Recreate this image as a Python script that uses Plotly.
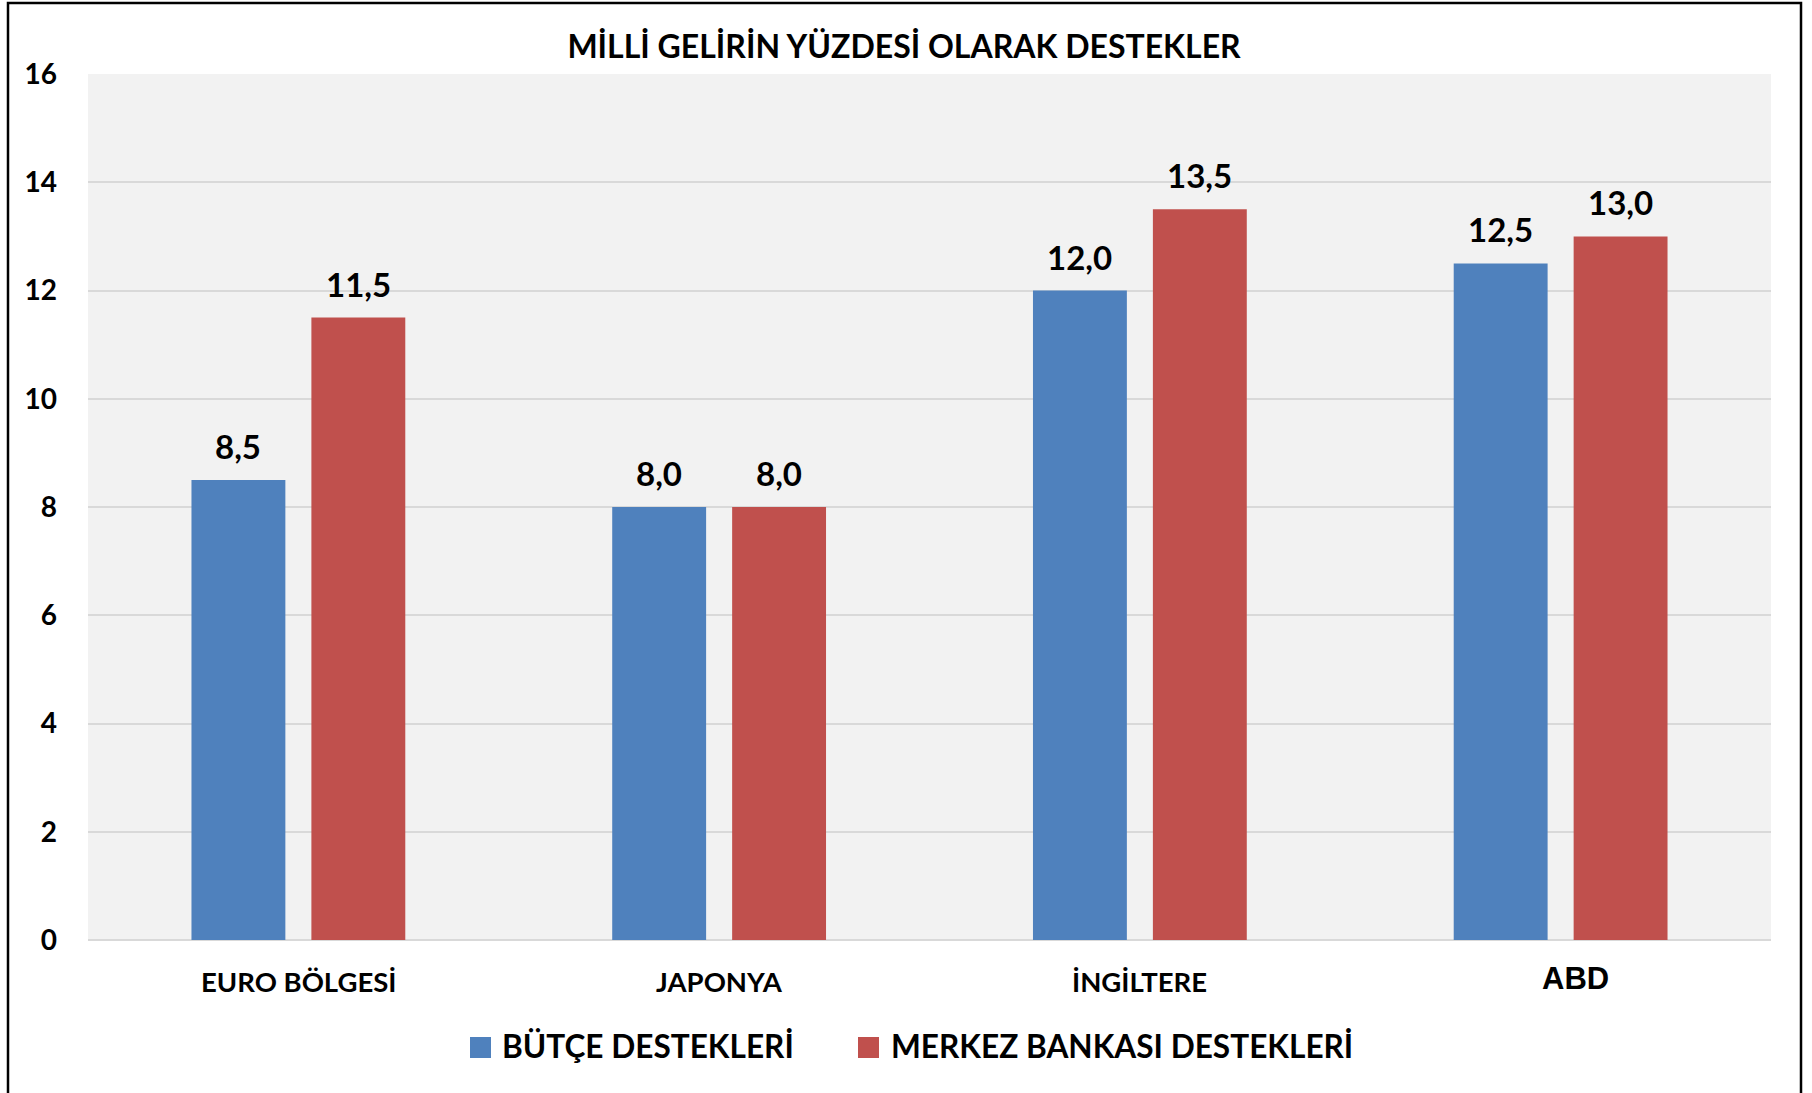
import plotly.graph_objects as go

categories = ["EURO BÖLGESİ", "JAPONYA", "İNGİLTERE", "ABD"]
butce = [8.5, 8.0, 12.0, 12.5]
merkez = [11.5, 8.0, 13.5, 13.0]
series_names = ["BÜTÇE DESTEKLERİ", "MERKEZ BANKASI DESTEKLERİ"]
title_text = "MİLLİ GELİRİN YÜZDESİ OLARAK DESTEKLER"
y_ticks = [0, 2, 4, 6, 8, 10, 12, 14, 16]

BLUE = "#4F81BD"
RED = "#C0504D"
W, H = 1812, 1093
L, R, T, B = 88, 1771, 74, 940


def px(x):
    return (x - L) / (R - L)


def py(y):
    return (B - y) / (B - T)


FONT = "Lato"

fig = go.Figure()
fig.add_trace(go.Bar(x=categories, y=butce, name=series_names[0], marker_color=BLUE,
                     marker_line_width=0))
fig.add_trace(go.Bar(x=categories, y=merkez, name=series_names[1], marker_color=RED,
                     marker_line_width=0))

annotations = []
slot = 60
for i, c in enumerate(categories):
    for vals, shift in ((butce, -slot), (merkez, slot)):
        annotations.append(dict(
            x=c, y=vals[i], xref="x", yref="y", xshift=shift, yshift=12,
            yanchor="bottom", xanchor="center", showarrow=False,
            text=f"{vals[i]:.1f}".replace(".", ","),
            font=dict(family=FONT, size=33, color="black", weight="bold")))

# category labels
for i, c in enumerate(categories):
    if c == "ABD":
        annotations.append(dict(x=c, y=py(978), xref="x", yref="paper", xshift=15,
                                showarrow=False, text=c, yanchor="middle",
                                font=dict(family="Liberation Sans", size=31, color="black",
                                          weight="bold")))
    else:
        annotations.append(dict(x=c, y=py(981), xref="x", yref="paper",
                                showarrow=False, text=c, yanchor="middle",
                                font=dict(family=FONT, size=27.5, color="black",
                                          weight="bold")))

# legend
shapes = []
legend_items = [(series_names[0], BLUE, 470, 500), (series_names[1], RED, 858, 889)]
for name, col, sx, tx in legend_items:
    shapes.append(dict(type="rect", xref="paper", yref="paper",
                       x0=px(sx), x1=px(sx + 21), y0=py(1058), y1=py(1037),
                       fillcolor=col, line_width=0))
    annotations.append(dict(x=px(tx), y=py(1046), xref="paper", yref="paper",
                            xanchor="left", yanchor="middle", showarrow=False, text=name,
                            font=dict(family=FONT, size=31.6, color="black", weight="bold")))

# outer border
shapes.append(dict(type="rect", xref="paper", yref="paper",
                   x0=px(8), x1=px(1801), y0=py(1105), y1=py(3),
                   line=dict(color="black", width=2.5), fillcolor="rgba(0,0,0,0)",
                   layer="above"))

fig.update_layout(
    width=W, height=H,
    margin=dict(l=L, r=W - R, t=T, b=H - B, pad=0),
    paper_bgcolor="white", plot_bgcolor="#F2F2F2",
    barmode="group", bargap=0.43, bargroupgap=0.217,
    showlegend=False,
    separators=",.",
    title=dict(text=title_text, x=904 / W, xanchor="center", y=1 - 47 / H, yanchor="middle",
               font=dict(family=FONT, size=32, color="black", weight="bold")),
    xaxis=dict(showticklabels=False, showgrid=False, zeroline=False, showline=False,
               ticks=""),
    yaxis=dict(range=[0, 16], tickvals=y_ticks, showgrid=True, gridcolor="#D9D9D9",
               gridwidth=2, zeroline=True, zerolinecolor="#D9D9D9", zerolinewidth=2,
               showline=False, ticks="", ticklabelstandoff=30,
               tickfont=dict(family=FONT, size=28, color="black", weight="bold")),
    annotations=annotations,
    shapes=shapes,
)

fig.write_html("out.html", config={"displayModeBar": False})

# remove the browser's default page margin so the figure sits at the window origin
with open("out.html", encoding="utf-8") as f:
    html = f.read()
html = html.replace("<head>", "<head><style>html,body{margin:0;padding:0;overflow:hidden;}</style>", 1)
with open("out.html", "w", encoding="utf-8") as f:
    f.write(html)
